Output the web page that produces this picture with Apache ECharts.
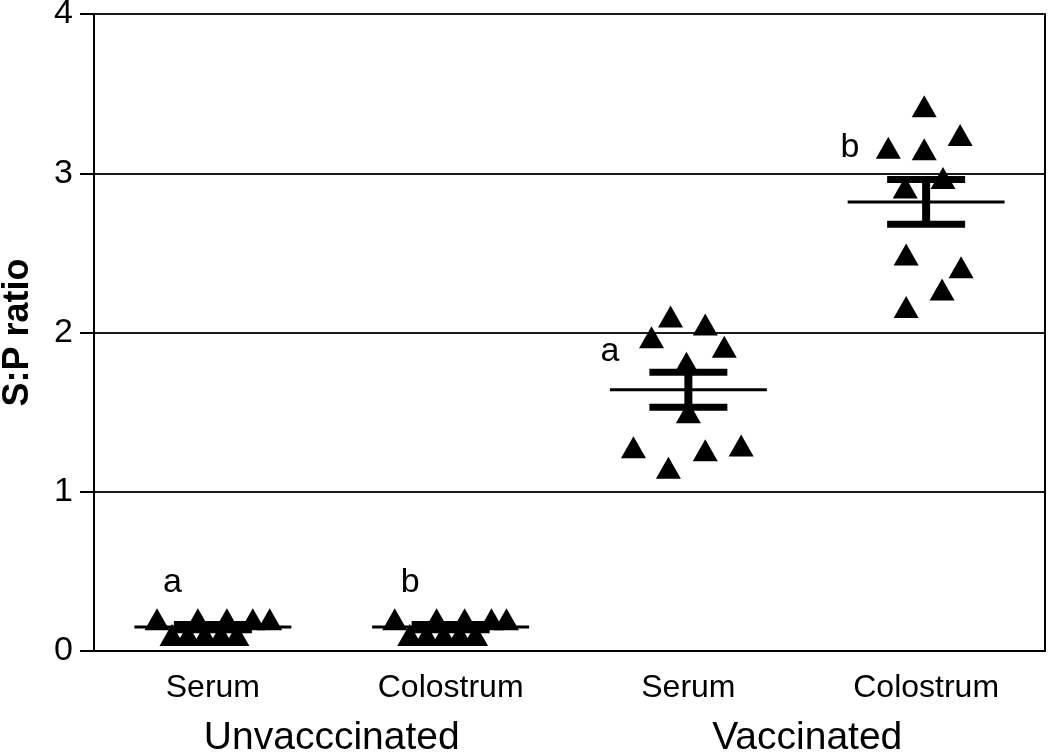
<!DOCTYPE html>
<html><head><meta charset="utf-8">
<script src="https://cdn.jsdelivr.net/npm/echarts@6/dist/echarts.min.js"></script>
<style>html,body{margin:0;padding:0;background:#fff}#c{width:1050px;height:755px}</style>
</head><body><div id="c"></div>
<script>
const categories = ['Serum', 'Colostrum', 'Serum', 'Colostrum'];
const groups = ['Unvacccinated', 'Vaccinated'];
const yTicks = [0, 1, 2, 3, 4];

// S:P ratio values, with horizontal jitter (category units)
const unvaccSerum = [0.20, 0.20, 0.20, 0.20, 0.20, 0.10, 0.10, 0.10, 0.10, 0.10];
const unvaccSerumJitter = [-0.235, -0.063, 0.059, 0.168, 0.239, -0.172, -0.105, -0.034, 0.034, 0.101];
const unvaccColostrum = [0.20, 0.20, 0.20, 0.20, 0.20, 0.10, 0.10, 0.10, 0.10, 0.10];
const unvaccColostrumJitter = [-0.235, -0.059, 0.059, 0.172, 0.235, -0.172, -0.101, -0.029, 0.038, 0.105];
const vaccSerum = [2.10, 2.05, 1.97, 1.91, 1.81, 1.50, 1.28, 1.15, 1.26, 1.29];
const vaccSerumJitter = [-0.075, 0.071, -0.155, 0.151, -0.008, 0.0, -0.231, -0.084, 0.071, 0.222];
const vaccColostrum = [3.42, 3.24, 3.16, 3.15, 2.97, 2.91, 2.49, 2.41, 2.27, 2.16];
const vaccColostrumJitter = [-0.008, 0.143, -0.159, -0.008, 0.071, -0.088, -0.084, 0.147, 0.067, -0.084];

const means = [0.15, 0.15, 1.64, 2.82];
const sems = [0.017, 0.017, 0.11, 0.14];

const letters = ['a', 'b', 'a', 'b'];
const letterY = [0.43, 0.43, 1.88, 3.16];
const letterJitter = [-0.17, -0.17, -0.33, -0.32];

const groupValues = [unvaccSerum, unvaccColostrum, vaccSerum, vaccColostrum];
const groupJitter = [unvaccSerumJitter, unvaccColostrumJitter, vaccSerumJitter, vaccColostrumJitter];

const points = [];
groupValues.forEach((vals, g) => vals.forEach((v, i) => points.push([g + 1 + groupJitter[g][i], v])));

const errData = means.map((m, i) => [i + 1, m, sems[i]]);
const letterData = letters.map((t, i) => ({ value: [i + 1 + letterJitter[i], letterY[i]], label: { formatter: t } }));

const FONT = '"Liberation Sans", Arial, sans-serif';
const chart = echarts.init(document.getElementById('c'));
chart.setOption({
  animation: false,
  backgroundColor: '#fff',
  grid: { left: 94, right: 5, top: 14, bottom: 104, containLabel: false, outerBoundsMode: 'none' },
  xAxis: [
    { type: 'value', min: 0.5, max: 4.5, show: false },
    {
      type: 'category', data: categories, position: 'bottom', boundaryGap: true,
      axisLine: { lineStyle: { color: '#000', width: 2 } },
      axisTick: { alignWithLabel: true, length: 12, lineStyle: { color: '#000', width: 2 } },
      axisLabel: { color: '#000', fontSize: 32, fontFamily: FONT, margin: 21 }
    },
    {
      type: 'category', data: groups, position: 'bottom', offset: 48, boundaryGap: true,
      axisLine: { show: false }, axisTick: { show: false },
      axisLabel: { color: '#000', fontSize: 39, fontFamily: FONT, margin: 20 }
    }
  ],
  yAxis: [
    {
      type: 'value', min: 0, max: 4, interval: 1,
      name: 'S:P ratio', nameLocation: 'middle', nameGap: 58,
      nameTextStyle: { color: '#000', fontSize: 36, fontWeight: 'bold', fontFamily: FONT },
      axisLine: { show: true, lineStyle: { color: '#000', width: 2 } },
      axisTick: { show: true, length: 14, lineStyle: { color: '#000', width: 2 } },
      axisLabel: { color: '#000', fontSize: 34, fontFamily: FONT, margin: 21,
        formatter: v => yTicks.includes(v) ? String(v) : '' },
      splitLine: { show: true, showMinLine: false, lineStyle: { color: '#1a1a1a', width: 2 } }
    },
    {
      type: 'value', min: 0, max: 4, position: 'right',
      axisLine: { show: true, lineStyle: { color: '#000', width: 2 } },
      axisTick: { show: false }, axisLabel: { show: false }, splitLine: { show: false }
    }
  ],
  series: [
    {
      type: 'scatter', xAxisIndex: 0, yAxisIndex: 0, data: points,
      symbol: 'triangle', symbolSize: [25, 22], itemStyle: { color: '#000', opacity: 1 }, z: 3
    },
    {
      type: 'custom', xAxisIndex: 0, yAxisIndex: 0, data: errData, z: 4,
      renderItem: function (params, api) {
        const x = api.value(0), m = api.value(1), s = api.value(2);
        const pm = api.coord([x, m]);
        const pl = api.coord([x - 0.33, m]);
        const pr = api.coord([x + 0.33, m]);
        const cl = api.coord([x - 0.164, m]);
        const cr = api.coord([x + 0.164, m]);
        const top = api.coord([x, m + s]);
        const bot = api.coord([x, m - s]);
        const style = { stroke: '#000', fill: null };
        return {
          type: 'group', children: [
            { type: 'line', shape: { x1: pl[0], y1: pm[1], x2: pr[0], y2: pm[1] }, style: Object.assign({ lineWidth: 3 }, style) },
            { type: 'line', shape: { x1: pm[0], y1: top[1], x2: pm[0], y2: bot[1] }, style: Object.assign({ lineWidth: 8 }, style) },
            { type: 'line', shape: { x1: cl[0], y1: top[1], x2: cr[0], y2: top[1] }, style: Object.assign({ lineWidth: 7 }, style) },
            { type: 'line', shape: { x1: cl[0], y1: bot[1], x2: cr[0], y2: bot[1] }, style: Object.assign({ lineWidth: 7 }, style) }
          ]
        };
      }
    },
    {
      type: 'scatter', xAxisIndex: 0, yAxisIndex: 0, data: letterData, symbolSize: 0, z: 5,
      itemStyle: { opacity: 1, color: '#000' },
      label: { show: true, position: 'inside', color: '#000', opacity: 1, fontSize: 34, fontFamily: FONT }
    }
  ]
});
</script></body></html>
